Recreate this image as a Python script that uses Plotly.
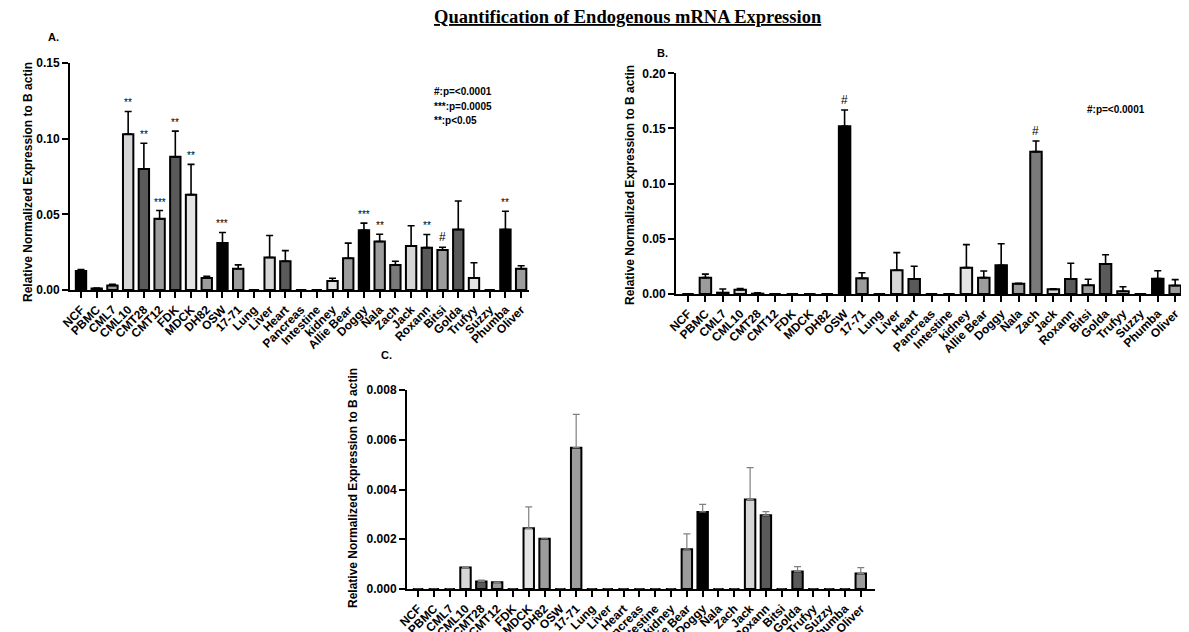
import plotly.graph_objects as go

categories = ["NCF", "PBMC", "CML7", "CML10", "CMT28", "CMT12", "FDK", "MDCK", "DH82", "OSW",
              "17-71", "Lung", "Liver", "Heart", "Pancreas", "Intestine", "kidney", "Allie Bear",
              "Doggy", "Nala", "Zach", "Jack", "Roxann", "Bitsi", "Golda", "Trufyy", "Suzzy",
              "Phumba", "Oliver"]

# Panel A
a_vals = [0.0125, 0.001, 0.003, 0.103, 0.080, 0.047, 0.088, 0.063, 0.008, 0.031,
          0.014, 0, 0.0215, 0.019, 0, 0, 0.006, 0.021,
          0.0395, 0.032, 0.0165, 0.029, 0.028, 0.0265, 0.040, 0.008, 0,
          0.040, 0.014]
a_err = [0.001, 0.0003, 0.0007, 0.015, 0.017, 0.0055, 0.017, 0.020, 0.001, 0.007,
         0.0026, 0, 0.0145, 0.007, 0, 0, 0.0018, 0.010,
         0.0047, 0.0048, 0.0025, 0.0135, 0.0087, 0.0017, 0.0188, 0.010, 0,
         0.012, 0.002]
a_sig = ["", "", "", "**", "**", "***", "**", "**", "", "***",
         "", "", "", "", "", "", "", "",
         "***", "**", "", "", "**", "#", "", "", "",
         "**", ""]

# Panel B
b_vals = [0, 0.0148, 0.0012, 0.0039, 0.0003, 0, 0, 0, 0, 0.152,
          0.0142, 0, 0.0215, 0.0136, 0, 0, 0.0239, 0.0148,
          0.026, 0.0094, 0.129, 0.0042, 0.0136, 0.0079, 0.0272, 0.0024, 0,
          0.0139, 0.0076]
b_err = [0, 0.0032, 0.0033, 0.0011, 0.0007, 0, 0, 0, 0, 0.0148,
         0.0051, 0, 0.016, 0.0115, 0, 0, 0.0208, 0.006,
         0.0196, 0.0003, 0.0097, 0.0004, 0.0142, 0.0054, 0.0084, 0.0042, 0,
         0.0072, 0.0054]
b_sig = ["", "", "", "", "", "", "", "", "", "#",
         "", "", "", "", "", "", "", "",
         "", "", "#", "", "", "", "", "", "",
         "", ""]

# Panel C
c_vals = [0, 0, 0, 0.00086, 0.0003, 0.00027, 0, 0.00244, 0.00202, 0,
          0.00568, 0, 0, 0, 0, 0, 0, 0.0016,
          0.0031, 0, 0, 0.0036, 0.00296, 0, 0.0007, 0, 0,
          0, 0.00062]
c_err = [0, 0, 0, 0.00001, 0.00006, 0.00001, 0, 0.00086, 0, 0,
         0.00134, 0, 0, 0, 0, 0, 0, 0.00062,
         0.0003, 0, 0, 0.00128, 0.00015, 0, 0.0002, 0, 0,
         0, 0.00024]

BLK, DARK, MED, LIGHT, ZGRAY, XLIGHT = "#000000", "#5a5a5a", "#9c9c9c", "#d6d6d6", "#7a7a7a", "#e4e4e4"
bar_colors = [BLK, MED, MED, LIGHT, DARK, MED, DARK, XLIGHT, MED, BLK,
              MED, MED, LIGHT, DARK, MED, MED, XLIGHT, MED,
              BLK, MED, ZGRAY, LIGHT, DARK, MED, DARK, XLIGHT, MED,
              BLK, MED]

FONT = "Arial, Liberation Sans, sans-serif"

# the figure sits 8px below the top of the page
OFFX, OFFY = 0, 8
W, H = 1189 - 8, 632 - OFFY

def fx(px):
    return (px - OFFX) / W

def fy(py):
    return 1 - (py - OFFY) / H

fig = go.Figure()

def add_panel(vals, errs, xa, ya, ecolor, ethick):
    errs_clean = [e if v > 0 else None for v, e in zip(vals, errs)]
    fig.add_trace(go.Bar(
        x=categories, y=vals, xaxis=xa, yaxis=ya, width=0.66,
        marker=dict(color=bar_colors, line=dict(color="black", width=2)),
        error_y=dict(type="data", array=errs_clean, arrayminus=[0] * len(vals),
                     symmetric=False, color=ecolor, thickness=ethick, width=3.5),
        showlegend=False, hoverinfo="x+y"))

add_panel(a_vals, a_err, "x", "y", "black", 1.6)
add_panel(b_vals, b_err, "x2", "y2", "black", 1.6)
add_panel(c_vals, c_err, "x3", "y3", "#808080", 1.2)

def xax(domain, rng, anchor):
    return dict(domain=domain, range=rng, anchor=anchor, type="category", automargin=False,
                showline=True, linewidth=2, linecolor="black", ticks="outside",
                ticklen=6, tickwidth=2, tickcolor="black", tickangle=-45,
                showgrid=False, zeroline=False,
                tickfont=dict(family=FONT, size=12, color="black", weight="bold"))

def yax(domain, rng, dtick, fmt, anchor):
    return dict(domain=domain, range=rng, anchor=anchor, dtick=dtick, tickformat=fmt,
                automargin=False,
                showline=True, linewidth=2, linecolor="black", ticks="outside",
                ticklen=6, tickwidth=2, tickcolor="black", showgrid=False, zeroline=False,
                tickfont=dict(family=FONT, size=12, color="black", weight="bold"))

fig.update_layout(
    template="none",
    width=W, height=H, margin=dict(l=0, r=0, t=0, b=0, autoexpand=False),
    plot_bgcolor="white", paper_bgcolor="white",
    xaxis=xax([fx(62), fx(521)], [-0.7, 28.5], "y"),
    yaxis=yax([fy(290), fy(63)], [0, 0.15], 0.05, ".2f", "x"),
    xaxis2=xax([fx(668), fx(1175)], [-0.69, 28.45], "y2"),
    yaxis2=yax([fy(294), fy(73.3)], [0, 0.2], 0.05, ".2f", "x2"),
    xaxis3=xax([fx(399), fx(867)], [-0.7, 28.9], "y3"),
    yaxis3=yax([fy(589), fy(390)], [0, 0.008], 0.002, ".3f", "x3"),
)

ann = []
def sig_ann(vals, errs, sigs, xr, yr):
    for c, v, e, s in zip(categories, vals, errs, sigs):
        if s:
            ann.append(dict(x=c, y=v + e, xref=xr, yref=yr, text=s, showarrow=False,
                            yanchor="bottom", yshift=1,
                            font=dict(family=FONT, size=12 if s == "#" else 10, color="black")))

sig_ann(a_vals, a_err, a_sig, "x", "y")
sig_ann(b_vals, b_err, b_sig, "x2", "y2")

def paper_text(x, y, text, size, anchor="left", angle=0, family=FONT, bold=True):
    ann.append(dict(x=fx(x), y=fy(y), xref="paper", yref="paper", text=text,
                    showarrow=False, xanchor=anchor, yanchor="middle", textangle=angle,
                    font=dict(family=family, size=size, color="black",
                              weight="bold" if bold else "normal")))

paper_text(620, 17, '<span style="text-decoration:underline">Quantification of Endogenous mRNA Expression</span>',
           18.5, anchor="center", family="Times New Roman, Liberation Serif, serif")
paper_text(45, 37, "A.", 11, anchor="center")
paper_text(654, 53, "B.", 11, anchor="center")
paper_text(378, 355, "C.", 11, anchor="center")
ylab = "Relative Normalized Expression to B actin"
paper_text(20, 182, ylab, 12, anchor="center", angle=-90)
paper_text(622, 185, ylab, 12, anchor="center", angle=-90)
paper_text(345, 488, ylab, 12, anchor="center", angle=-90)
paper_text(424, 92, "#:p=&lt;0.0001", 10)
paper_text(424, 106, "***:p=0.0005", 10)
paper_text(424, 120, "**:p&lt;0.05", 10)
paper_text(1077, 110, "#:p=&lt;0.0001", 10)

fig.update_layout(annotations=ann)
fig.write_html("out.html")
